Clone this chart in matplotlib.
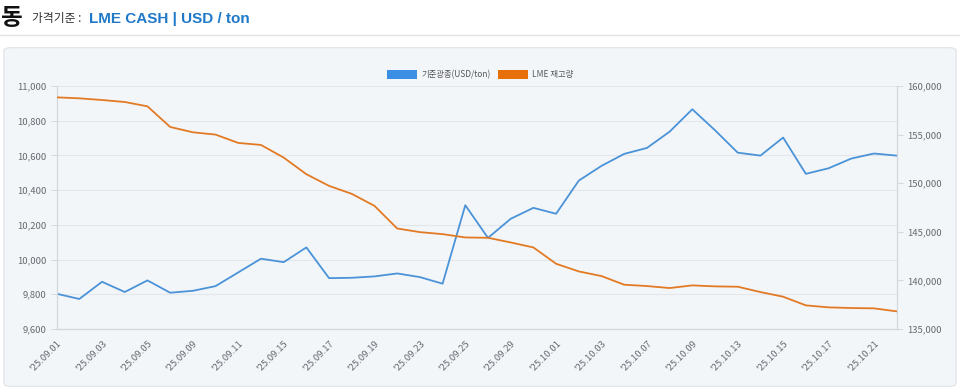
import matplotlib
matplotlib.use("Agg")
import matplotlib.pyplot as plt
from matplotlib.patches import Patch, FancyBboxPatch
from matplotlib.ticker import FuncFormatter

plt.rcParams['font.family'] = ['Noto Sans CJK KR', 'DejaVu Sans']

dates = ["09.01", "09.02", "09.03", "09.04", "09.05", "09.08", "09.09", "09.10", "09.11", "09.12",
         "09.15", "09.16", "09.17", "09.18", "09.19", "09.22", "09.23", "09.24", "09.25", "09.26",
         "09.29", "09.30", "10.01", "10.02", "10.03", "10.06", "10.07", "10.08", "10.09", "10.10",
         "10.13", "10.14", "10.15", "10.16", "10.17", "10.20", "10.21", "10.22"]
price = [9803, 9773, 9872, 9813, 9880, 9809, 9820, 9847, 9926, 10005,
         9985, 10070, 9893, 9895, 9903, 9920, 9899, 9861, 10313, 10125,
         10235, 10298, 10264, 10455, 10540, 10609, 10643, 10737, 10866, 10745,
         10616, 10599, 10703, 10494, 10526, 10582, 10611, 10599]
stock = [158836, 158733, 158562, 158356, 157911, 155788, 155240, 155000, 154144, 153938,
         152637, 150925, 149726, 148904, 147671, 145342, 144966, 144760, 144418, 144384,
         143904, 143390, 141712, 140924, 140445, 139555, 139418, 139212, 139486, 139383,
         139349, 138801, 138322, 137431, 137226, 137157, 137123, 136815]

blue = "#4a93d8"
orange = "#e27a24"
tick_col = "#666a70"

fig = plt.figure(figsize=(9.6, 3.91), dpi=100)
fig.patch.set_facecolor("white")

# header
fig.text(0.001, 0.955, "동", fontsize=17, fontweight="bold", color="#111111", va="center")
fig.text(0.033, 0.952, "가격기준 :", fontsize=8.5, color="#333333", va="center")
fig.text(0.093, 0.952, "LME CASH | USD / ton", fontsize=11, fontweight="bold", color="#1f78c8",
         va="center", family=["Liberation Sans", "DejaVu Sans"])
fig.add_artist(plt.Line2D([0, 1], [0.91, 0.91], color="#e2e4e8", lw=1, transform=fig.transFigure))

# panel behind the axes
panel = FancyBboxPatch((0.004, 0.012), 0.992, 0.866, boxstyle="round,pad=0,rounding_size=0.008",
                       transform=fig.transFigure, facecolor="#f3f6f9", edgecolor="#e3e7ec", lw=1,
                       zorder=-5)
fig.add_artist(panel)

ax = fig.add_axes([0.059, 0.1586, 0.875, 0.6214])
ax.set_facecolor("#f3f6f9")
ax2 = ax.twinx()

x = list(range(len(dates)))
ax.plot(x, price, color=blue, lw=1.3, zorder=3)
ax2.plot(x, stock, color=orange, lw=1.3, zorder=3)

ax.set_xlim(0, len(dates) - 1)
ax.set_ylim(9600, 11000)
ax.set_yticks(range(9600, 11001, 200))
ax2.set_ylim(135000, 160000)
ax2.set_yticks(range(135000, 160001, 5000))
fmt = FuncFormatter(lambda v, p: f"{int(v):,}")
ax.yaxis.set_major_formatter(fmt)
ax2.yaxis.set_major_formatter(fmt)

ax.set_xticks(x[::2])
ax.set_xticklabels(["'25." + d for d in dates[::2]], rotation=45, ha="right",
                   rotation_mode="anchor")
ax.grid(True, axis="y", color="#e3e6ea", lw=0.8)
ax.set_axisbelow(True)

for a in (ax, ax2):
    a.tick_params(colors=tick_col, labelsize=6.8, length=4, width=0.6)
    a.tick_params(axis="both", color="#cfd4da")
    for s in a.spines.values():
        s.set_color("#d3d7dc")
        s.set_linewidth(0.8)
    a.spines["top"].set_visible(False)
ax.tick_params(axis="x", length=0, pad=7)

handles = [Patch(facecolor="#3a8ee3", label="기준광종(USD/ton)"),
           Patch(facecolor="#e8700a", label="LME 재고량")]
fig.legend(handles=handles, loc="center", bbox_to_anchor=(0.5, 0.81), ncol=2, frameon=False,
           fontsize=6, handlelength=3.6, handleheight=1.3, columnspacing=0.85, handletextpad=0.5,
           labelcolor="#555555")

fig.savefig("out.png", dpi=100)
